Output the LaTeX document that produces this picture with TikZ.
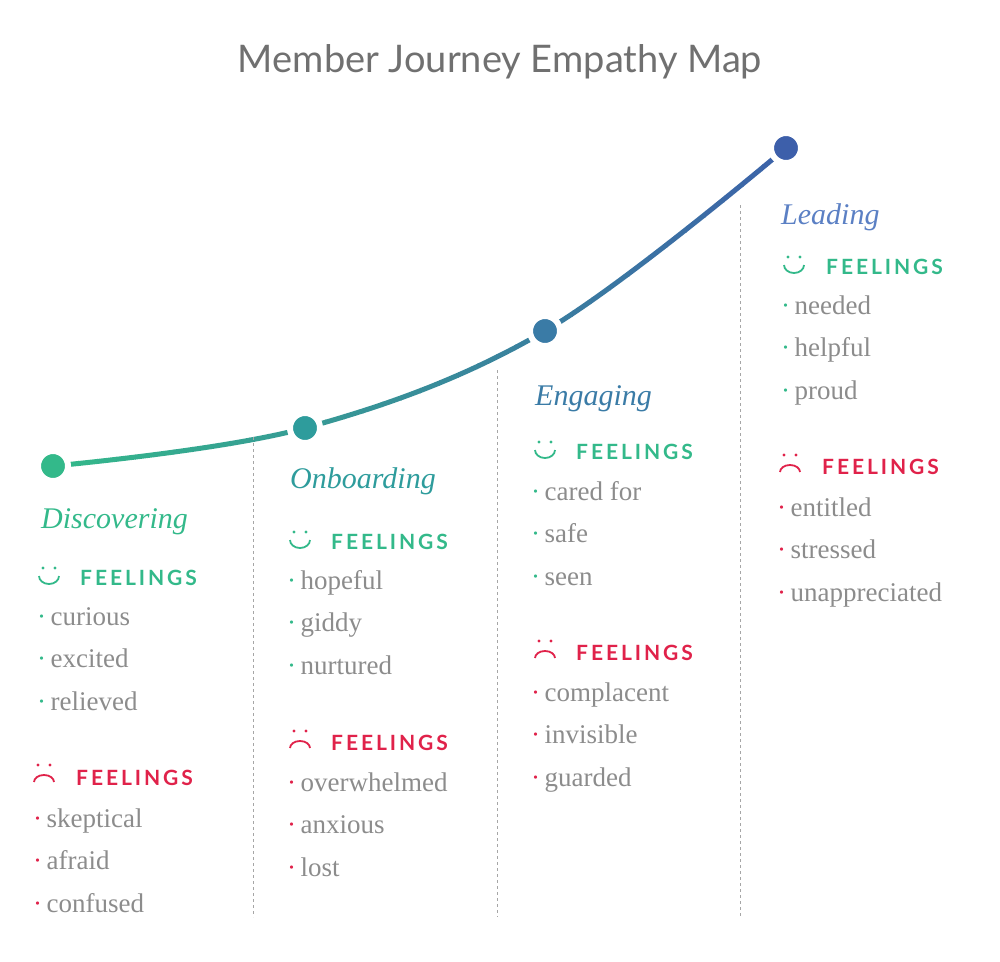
\documentclass[tikz,border=0pt]{standalone}
\usepackage{fontspec}
\setmainfont{Liberation Serif}
\newfontfamily\titlefont{Lato}
\newfontfamily\capsfont[LetterSpace=14]{Lato}
\usetikzlibrary{positioning}

\definecolor{cgreen}{HTML}{33B98A}
\definecolor{cteal}{HTML}{2E9C9C}
\definecolor{cblue}{HTML}{3A7BA6}
\definecolor{cnavy}{HTML}{3D5FAA}
\definecolor{clead}{HTML}{5B80C4}
\definecolor{cred}{HTML}{E0224A}
\definecolor{ctext}{HTML}{8C8C8C}
\definecolor{ctitle}{HTML}{707070}

\begin{document}
\begin{tikzpicture}[x=1pt,y=-1pt]
        \tikzset{
          stage/.style={anchor=base west, inner sep=0, font=\fontsize{30}{34}\selectfont\itshape},
          item/.style={anchor=base west, inner sep=0, text=ctext, font=\fontsize{27}{30}\selectfont},
          feel/.style={anchor=base west, inner sep=0, font=\capsfont\bfseries\fontsize{21}{24}\selectfont},
          dot/.style={circle, inner sep=0, minimum size=30pt},
          sep/.style={dashed, gray!70, thin},
        }
        % smile and frown faces
        \newcommand{\smileface}[2]{%
          \fill[cgreen] (#1+4,#2-17) circle (1.7) (#1+16,#2-17) circle (1.7);
          \draw[cgreen, line width=1.8] (#1,#2-9) arc (180:0:10 and 8);}
        \newcommand{\frownface}[2]{%
          \fill[cred] (#1+4,#2-17) circle (1.7) (#1+16,#2-17) circle (1.7);
          \draw[cred, line width=1.8] (#1,#2) arc (180:360:10 and 7);}
        \newcommand{\items}[4]{%
          \foreach \w [count=\i from 0] in {#4} {
            \node[item] at (#1,#3+\i*42.5) {\textcolor{#2}{·}\,\w};}}

        \useasboundingbox (0,0) rectangle (1000,961);
        \node (title) [inner sep=0, text=ctitle, font=\titlefont\fontsize{38}{44}\selectfont] at (500,62) {Member Journey Empathy Map};

        % curve, coloured in strips
        \foreach \k in {0,...,39} {
          \pgfmathsetmacro{\pc}{100-\k*2.5}
          \colorlet{stripcol}{cgreen!\pc!cnavy}
          \begin{scope}
            \clip (40+\k*19,100) rectangle (40+\k*19+19.5,500);
            \draw[stripcol, line width=5] plot[smooth, tension=0.6] coordinates {(53,466) (305,428) (545,331) (786,148)};
          \end{scope}
        }
        \node (d1) [dot, fill=cgreen, draw=white, line width=6] at (53,466) {};
        \node (d2) [dot, fill=cteal, draw=white, line width=6] at (305,428) {};
        \node (d3) [dot, fill=cblue, draw=white, line width=6] at (545,331) {};
        \node (d4) [dot, fill=cnavy, draw=white, line width=6] at (786,148) {};

        \draw[sep] (253,437) -- (253,917);
        \draw[sep] (497,370) -- (497,917);
        \draw[sep] (740,205) -- (740,917);

        % Discovering
        \node (s1) [stage, text=cgreen] at (41,528) {Discovering};
        \smileface{39}{585}
        \node[feel, text=cgreen] at (80,585) {FEELINGS};
        \items{37}{cgreen}{625}{curious,excited,relieved}
        \frownface{34}{782}
        \node[feel, text=cred] at (76,785) {FEELINGS};
        \items{33}{cred}{827}{skeptical,afraid,confused}

        % Onboarding
        \node (s2) [stage, text=cteal] at (290,488) {Onboarding};
        \smileface{290}{549}
        \node[feel, text=cgreen] at (331,549) {FEELINGS};
        \items{287}{cgreen}{589}{hopeful,giddy,nurtured}
        \frownface{290}{748}
        \node[feel, text=cred] at (331,750) {FEELINGS};
        \items{287}{cred}{791}{overwhelmed,anxious,lost}

        % Engaging
        \node (s3) [stage, text=cblue] at (535,405) {Engaging};
        \smileface{535}{459}
        \node[feel, text=cgreen] at (576,459) {FEELINGS};
        \items{531}{cgreen}{500}{cared for,safe,seen}
        \frownface{535}{658}
        \node[feel, text=cred] at (576,660) {FEELINGS};
        \items{531}{cred}{701}{complacent,invisible,guarded}

        % Leading
        \node (s4) [stage, text=clead] at (781,224) {Leading};
        \smileface{784}{274}
        \node[feel, text=cgreen] at (826,274) {FEELINGS};
        \items{781}{cgreen}{314}{needed,helpful,proud}
        \frownface{780}{472}
        \node[feel, text=cred] at (822,474) {FEELINGS};
        \items{777}{cred}{516}{entitled,stressed,unappreciated}
\end{tikzpicture}
\end{document}
